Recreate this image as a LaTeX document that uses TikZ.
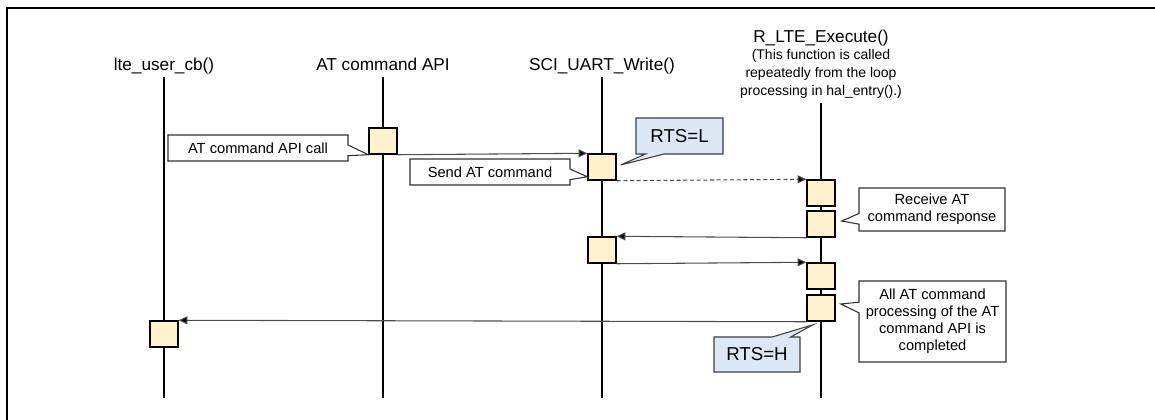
\documentclass[tikz,border=0pt]{standalone}
\usepackage{fontspec}
\setmainfont{Liberation Sans}
\usetikzlibrary{arrows.meta,shapes.callouts,calc}

\definecolor{boxyellow}{RGB}{255,242,204}
\definecolor{rtsblue}{RGB}{220,232,245}

\tikzset{
  lifeline/.style={line width=1.1pt},
  actbox/.style={draw, line width=1.1pt, fill=boxyellow, minimum width=21pt, minimum height=19.5pt, inner sep=0pt},
  msg/.style={draw=black!70, line width=0.8pt, -{Triangle[length=6.5pt,width=6pt,fill=black]}},
  heading/.style={font=\fontsize{12.9}{16}\selectfont, anchor=base, inner sep=0pt},
  note/.style={rectangle callout, draw=black!80, fill=white, line width=0.8pt, font=\fontsize{11}{12.75}\selectfont, align=center, inner sep=0pt, callout pointer width=8pt},
  rts/.style={rectangle callout, draw=black!75, fill=rtsblue, line width=0.8pt, font=\fontsize{14}{16}\selectfont, inner sep=0pt, callout pointer width=14pt},
}

\begin{document}
\begin{tikzpicture}[x=0.75pt,y=-0.75pt]
        \useasboundingbox (0,0) rectangle (1155,419);
        \clip (0,0) rectangle (1155,419);

        % Outer frame.
        \draw[line width=1.5pt] (7,8) rectangle (1170,430);

        % Lifelines.
        \foreach \name/\x/\top in {lte/164/77, api/383/77, sci/602/77, exe/821/103} {
            \coordinate (\name top) at (\x,\top);
            \coordinate (\name bot) at (\x,398);
            \draw[lifeline] (\name top) -- (\name bot);
        }

        % Headings.
        \node[heading] (ltehead) at (164,70) {lte\_user\_cb()};
        \node[heading] (apihead) at (383,70) {AT command API};
        \node[heading] (scihead) at (602,70) {SCI\_UART\_Write()};
        \node[heading] (exehead) at (821,42) {R\_LTE\_Execute()};
        \node[font=\fontsize{10.5}{13.5}\selectfont, align=center, anchor=north, inner sep=0pt] (exesub) at (821,49)
            {(This function is called\\repeatedly from the loop\\processing in hal\_entry().)};

        % Activation boxes.
        \foreach \name/\x/\y in {api1/383/141, sci1/602/167, exe1/821/193, exe2/821/224,
                                 sci2/602/250, exe3/821/276, exe4/821/308, lte1/164/334}
            \node[actbox] (\name) at (\x,\y) {};

        % Messages.
        \draw[msg] (api1.south east) -- (sci1.north west);
        \draw[msg, dash pattern=on 3pt off 2pt] (sci1.south east) -- (exe1.north west);
        \draw[msg] (exe2.south west) -- (sci2.north east);
        \draw[msg] (sci2.south east) -- (exe3.north west);
        \draw[msg] (exe4.south west) -- (lte1.north east);

        % Notes.
        \node[note, minimum width=135pt, minimum height=19.5pt,
              callout absolute pointer={(api1.south west)}] (callnote) at (258,148) {AT command API call};
        \node[note, minimum width=120pt, minimum height=19.5pt,
              callout absolute pointer={($(sci1.south west)+(0,-4)$)}] (sendnote) at (490,172) {Send AT command};
        \node[note, minimum width=109.5pt, minimum height=32.25pt,
              callout absolute pointer={($(exe2.east)+(6,-3)$)}] (recvnote) at (932,209.5) {Receive AT\\command response};
        \node[note, minimum width=110.25pt, minimum height=60.75pt,
              callout absolute pointer={($(exe4.east)+(5,-4)$)}] (donenote) at (932.5,321.5)
            {All AT command\\processing of the AT\\command API is\\completed};

        % RTS states.
        \node[rts, minimum width=65.25pt, minimum height=27pt,
              callout absolute pointer={($(sci1.east)+(4,-2)$)}] (rtslow) at (679.5,136) {RTS=L};
        \node[rts, minimum width=64.5pt, minimum height=26.25pt,
              callout absolute pointer={($(exe4.south)+(-8,3)$)}] (rtshigh) at (757,354.5) {RTS=H};
\end{tikzpicture}
\end{document}
